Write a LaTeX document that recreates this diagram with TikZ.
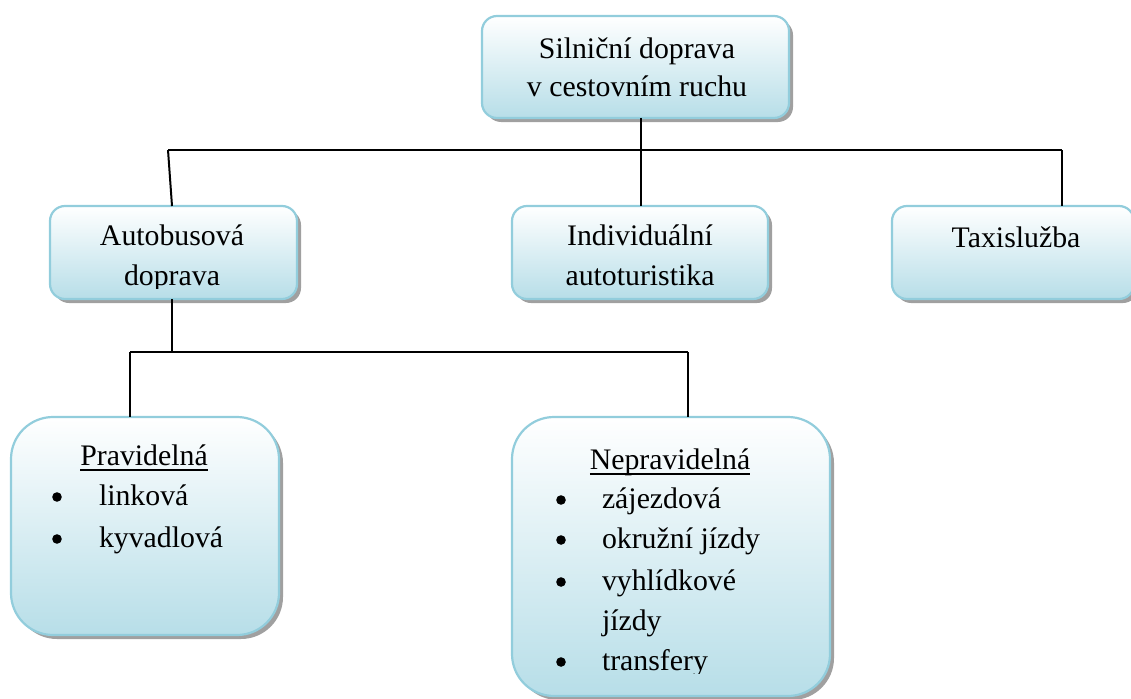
\documentclass[tikz,border=0pt]{standalone}
\usepackage{fontspec}
\setmainfont{Liberation Serif}
\usetikzlibrary{shadows}
\definecolor{boxline}{RGB}{146,205,220}
\definecolor{boxfill}{RGB}{183,222,232}
\definecolor{shadowgray}{RGB}{150,150,150}
\tikzset{
  box/.style={rectangle, draw=boxline, line width=2.2pt, top color=white, bottom color=boxfill,
    inner sep=0pt, outer sep=0pt,
    drop shadow={shadow xshift=4pt, shadow yshift=-4pt, fill=shadowgray, opacity=0.9}},
  smallbox/.style={box, rounded corners=15pt},
  bigbox/.style={box, rounded corners=42pt},
  txt/.style={inner sep=0pt, outer sep=0pt, anchor=base, font=\fontsize{29.8}{37}\selectfont},
  ltxt/.style={txt, anchor=base west},
  conn/.style={line width=2pt, black},
  bul/.style={fill=black}
}
\begin{document}
\begin{tikzpicture}[x=1pt, y=-1pt]
\useasboundingbox (0,0) rectangle (1131,698);
% boxes
\node[smallbox, minimum width=307pt, minimum height=102pt] (top) at (635.5,67) {};
\node[smallbox, minimum width=247pt, minimum height=93pt] (auto) at (173.5,252.5) {};
\node[smallbox, minimum width=256pt, minimum height=93pt] (indiv) at (640,252.5) {};
\node[smallbox, minimum width=242pt, minimum height=93pt] (taxi) at (1013,252.5) {};
\node[bigbox, minimum width=268pt, minimum height=218pt] (prav) at (145,526) {};
\node[bigbox, minimum width=318pt, minimum height=279pt] (neprav) at (671,556.5) {};
% connectors
\coordinate (busL) at (168,150);
\coordinate (busM) at (641,150);
\coordinate (busR) at (1062,150);
\draw[conn] (busM |- top.south) -- (busM) -- (busM |- indiv.north);
\draw[conn] (busL) -- (busR);
\draw[conn] (busL) -- (172,206);
\draw[conn] (busR) -- (busR |- taxi.north);
\coordinate (bus2M) at (172,352);
\coordinate (bus2L) at (130,352);
\coordinate (bus2R) at (688,352);
\draw[conn] (bus2M |- auto.south) -- (bus2M);
\draw[conn] (bus2L) -- (bus2R);
\draw[conn] (bus2L) -- (bus2L |- prav.north);
\draw[conn] (bus2R) -- (bus2R |- neprav.north);
% texts
\node[txt] (t1) at (637,59) {Silniční doprava};
\node[txt] (t2) at (637,96) {v cestovním ruchu};
\begin{scope}
\clip (0,0) rectangle (1131,288);
\node[txt] (a1) at (172,245) {Autobusová};
\node[txt] (a2) at (172,285) {doprava};
\node[txt] (i1) at (640,245) {Individuální};
\node[txt] (i2) at (640,285) {autoturistika};
\end{scope}
\node[txt] (x1) at (1016,247) {Taxislužba};
% Pravidelna
\node[txt] (ph) at (144,465) {Pravidelná};
\draw[line width=1.5pt] ([yshift=-5pt]ph.base west) -- ([yshift=-5pt]ph.base east);
\node[ltxt] (p1) at (99,505) {linková};
\node[ltxt] (p2) at (99,547) {kyvadlová};
\fill[bul] (57,497) circle (4.8);
\fill[bul] (57,539) circle (4.8);
% Nepravidelna
\node[txt] (nh) at (670,469) {Nepravidelná};
\draw[line width=1.5pt] ([yshift=-5pt]nh.base west) -- ([yshift=-5pt]nh.base east);
\node[ltxt] (n1) at (602,508) {zájezdová};
\node[ltxt] (n2) at (602,548) {okružní jízdy};
\node[ltxt] (n3) at (602,590) {vyhlídkové};
\node[ltxt] (n4) at (602,630) {jízdy};
\begin{scope}
\clip (0,0) rectangle (1131,673);
\node[ltxt] (n5) at (602,670) {transfery};
\end{scope}
\fill[bul] (561,500) circle (4.8);
\fill[bul] (561,540) circle (4.8);
\fill[bul] (561,582) circle (4.8);
\fill[bul] (561,662) circle (4.8);
\end{tikzpicture}
\end{document}
